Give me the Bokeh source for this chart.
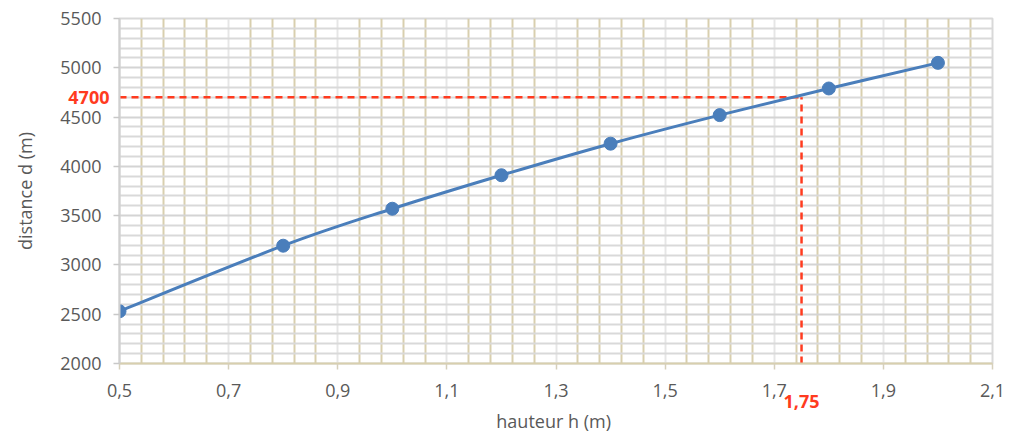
from bokeh.plotting import figure
from bokeh.models import FixedTicker, CustomJSTickFormatter, LinearAxis
from bokeh.embed import file_html
from bokeh.resources import INLINE

# ---- data ----
h = [0.5, 0.8, 1.0, 1.2, 1.4, 1.6, 1.8, 2.0]
d = [2530, 3195, 3570, 3910, 4230, 4520, 4790, 5050]
h_read = 1.75
d_read = 4700
x_ticks = [0.5, 0.7, 0.9, 1.1, 1.3, 1.5, 1.7, 1.9, 2.1]
y_ticks = [2000, 2500, 3000, 3500, 4000, 4500, 5000, 5500]
x_minor = [round(0.5 + 0.04 * k, 2) for k in range(41) if k % 5]
y_minor = [v for v in range(2000, 5501, 100) if v % 500]

FONT = "Open Sans"
GREY = "#595959"
RED = "#ff3b1f"
BLUE = "#4a7ebb"
TAN = "#d8cfae"
FS = "18px"

p = figure(width=1008, height=446, output_backend="svg", toolbar_location=None,
           x_range=(x_ticks[0], x_ticks[-1]), y_range=(y_ticks[0], y_ticks[-1]),
           min_border_left=119, min_border_right=16, min_border_top=18, min_border_bottom=83)
p.outline_line_color = "#d9d9d9"
p.outline_line_width = 2

p.xaxis.ticker = FixedTicker(ticks=x_ticks, minor_ticks=x_minor)
p.yaxis.ticker = FixedTicker(ticks=y_ticks, minor_ticks=y_minor)
p.xaxis.formatter = CustomJSTickFormatter(code="return tick.toFixed(1).replace('.', ',');")

for ax in (p.xaxis[0], p.yaxis[0]):
    ax.major_label_text_font = FONT
    ax.major_label_text_font_size = FS
    ax.major_label_text_color = GREY
    ax.axis_line_width = 2
    ax.major_tick_line_width = 1.5
    ax.major_tick_out = 6
    ax.major_tick_in = 0
    ax.minor_tick_line_color = None
p.yaxis.axis_line_color = "#d0d0d0"
p.yaxis.major_tick_line_color = "#c8c8c8"
p.xaxis.axis_line_color = TAN
p.xaxis.major_tick_line_color = "#d6d0bc"
p.yaxis.major_label_standoff = 12
p.xaxis.major_label_standoff = 14

# secondary axes carrying the red reading labels and the axis titles
fmt_h = CustomJSTickFormatter(code="return tick.toFixed(2).replace('.', ',');")
ax_h = LinearAxis(ticker=FixedTicker(ticks=[h_read], minor_ticks=[]), formatter=fmt_h,
                  axis_label="hauteur  h (m)")
ax_d = LinearAxis(ticker=FixedTicker(ticks=[d_read], minor_ticks=[]),
                  axis_label="distance d (m)")
for ax in (ax_h, ax_d):
    ax.axis_line_color = None
    ax.major_tick_line_color = None
    ax.minor_tick_line_color = None
    ax.major_tick_out = 0
    ax.major_tick_in = 0
    ax.major_label_text_font = FONT
    ax.major_label_text_font_size = FS
    ax.major_label_text_font_style = "bold"
    ax.major_label_text_color = RED
    ax.axis_label_text_font = FONT
    ax.axis_label_text_font_size = FS
    ax.axis_label_text_font_style = "normal"
    ax.axis_label_text_color = GREY
ax_h.major_label_standoff = -5
ax_h.axis_label_standoff = -2
ax_d.major_label_standoff = -52
ax_d.axis_label_standoff = 28
p.add_layout(ax_h, "below")
p.add_layout(ax_d, "left")

p.xgrid.grid_line_color = "#e6e6e6"
p.xgrid.grid_line_width = 2
p.xgrid.minor_grid_line_color = TAN
p.xgrid.minor_grid_line_width = 2
p.ygrid.grid_line_color = "#d4d4d4"
p.ygrid.grid_line_width = 2
p.ygrid.minor_grid_line_color = "#d9d9d9"
p.ygrid.minor_grid_line_width = 2

# red dashed reading lines
p.line([x_ticks[0], h_read], [d_read, d_read], line_color=RED, line_width=2.5, line_dash="7 5")
p.line([h_read, h_read], [y_ticks[0], d_read], line_color=RED, line_width=2.5, line_dash="7 5")

# smooth curve (Catmull-Rom -> Bezier)
n = len(h)
x0, y0, x1, y1, cx0, cy0, cx1, cy1 = [], [], [], [], [], [], [], []
for i in range(n - 1):
    im = max(i - 1, 0)
    ip2 = min(i + 2, n - 1)
    x0.append(h[i]); y0.append(d[i]); x1.append(h[i + 1]); y1.append(d[i + 1])
    cx0.append(h[i] + (h[i + 1] - h[im]) / 6); cy0.append(d[i] + (d[i + 1] - d[im]) / 6)
    cx1.append(h[i + 1] - (h[ip2] - h[i]) / 6); cy1.append(d[i + 1] - (d[ip2] - d[i]) / 6)
p.bezier(x0=x0, y0=y0, x1=x1, y1=y1, cx0=cx0, cy0=cy0, cx1=cx1, cy1=cy1,
         line_color=BLUE, line_width=3)
p.scatter(h, d, size=13, fill_color=BLUE, line_color=BLUE)

open("out.html", "w").write(file_html(p, INLINE))
